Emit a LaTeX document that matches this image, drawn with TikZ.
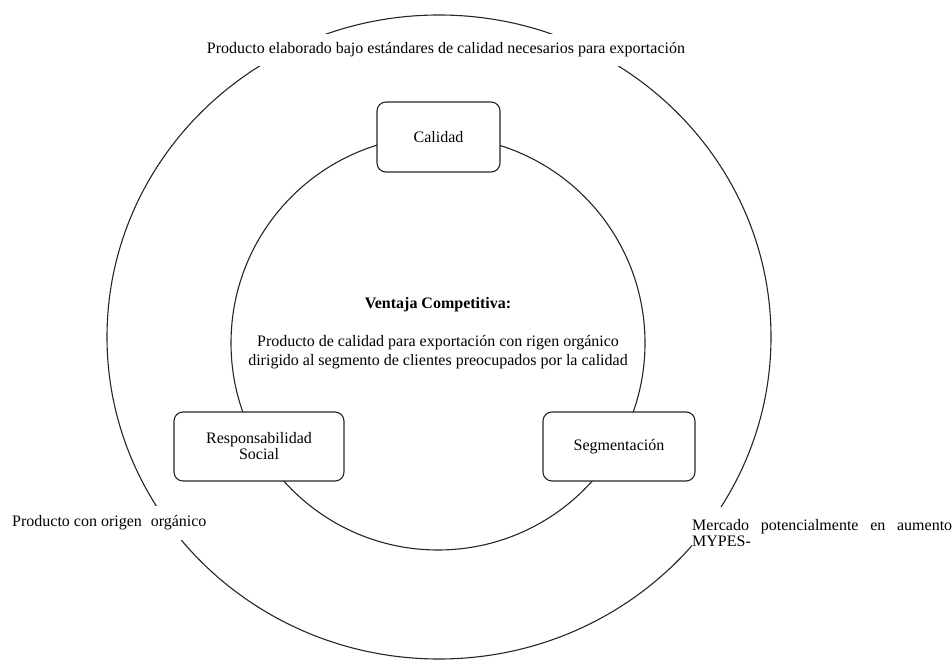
\documentclass[tikz,border=0pt]{standalone}
\usepackage{fontspec}
\setmainfont{Liberation Serif}
\begin{document}
\begin{tikzpicture}[x=1pt,y=-1pt,
  ring/.style={draw=black!85, line width=1.1pt},
  pillar/.style={draw=black!85, line width=1.1pt, fill=white, rounded corners=9pt,
    align=center, inner sep=0pt, font=\fontsize{16}{16}\selectfont},
  gaplabel/.style={fill=white, inner ysep=0pt, inner xsep=3pt, font=\fontsize{16}{17}\selectfont},
  core/.style={align=center, inner sep=0pt, font=\fontsize{16}{19}\selectfont},
]
\useasboundingbox (0,0) rectangle (952,660);

% outer ring and inner ring
\draw[ring] (439,337) ellipse [x radius=332pt, y radius=322pt];
\draw[ring] (438,343) circle [radius=207pt];

% labels sitting on the outer ring
\node[gaplabel, minimum height=32pt] (top) at (446,50)
  {Producto elaborado bajo estándares de calidad necesarios para exportación};
\node[gaplabel, anchor=west, minimum height=34pt, inner xsep=0pt] (left) at (12,523)
  {Producto con origen\hspace{0.55em}orgánico};
\node[gaplabel, anchor=west, minimum height=52pt, inner xsep=0pt, align=left,
      text width=260pt, font=\fontsize{16}{16}\selectfont] (right) at (692,533)
  {\hbox to 260pt{Mercado\hfill potencialmente\hfill en\hfill aumento}\\MYPES-};

% the three pillars on the inner ring
\node[pillar, minimum width=123pt, minimum height=70pt] (calidad) at (438.5,137) {Calidad};
\node[pillar, minimum width=170pt, minimum height=69pt] (resp) at (259,446.5)
  {Responsabilidad\\Social};
\node[pillar, minimum width=152pt, minimum height=69pt] (seg) at (619,446.5) {Segmentación};

% central statement
\node[core] (title) at (438,305) {\textbf{Ventaja Competitiva:}};
\node[core] (body) at (438,352)
  {Producto de calidad para exportación con rigen orgánico\\
   dirigido al segmento de clientes preocupados por la calidad};
\end{tikzpicture}
\end{document}
